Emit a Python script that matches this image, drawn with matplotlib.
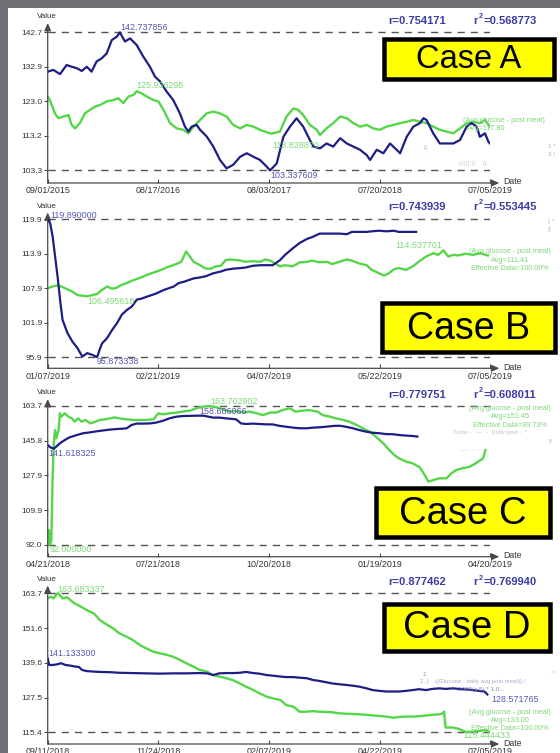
import matplotlib
matplotlib.use('Agg')
import matplotlib.pyplot as plt
import numpy as np
from matplotlib.patches import Rectangle

plt.rcParams['font.family'] = ['Liberation Sans', 'DejaVu Sans']

W, H = 560, 753

# ---------------- Case A ----------------
a_dates = ['09/01/2015', '08/17/2016', '08/03/2017', '07/20/2018', '07/05/2019']
a_span = 1403
a_blue_day = [0,18,39,60,76,92,108,124,139,155,171,187,203,219,229,245,261,282,303,324,340,356,377,398,419,435,446,456,472,483,504,525,546,567,588,610,631,652,673,694,705,726,747,768,789,810,831,842,863,884,905,927,948,969,990,1011,1022,1043,1064,1085,1106,1117,1138,1159,1180,1191,1201,1222,1243,1264,1286,1307,1328,1344,1360,1370,1386,1397,1402]
a_blue_val = [131.5,132.0,130.8,133.4,132.9,132.5,131.7,132.9,131.5,134.4,135.3,136.7,140.5,141.5,142.7,140.1,141.0,139.1,135.8,132.9,130.1,128.7,125.8,123.4,119.6,115.8,114.4,115.8,116.3,114.9,113.0,110.1,106.3,103.9,104.9,107.2,108.2,107.2,106.3,104.4,103.3,105.3,112.9,115.8,118.2,115.8,112.0,110.1,109.6,111.0,110.1,112.5,111.0,110.1,109.2,107.7,106.3,109.2,108.2,111.0,109.2,108.2,112.9,115.8,116.8,118.2,117.7,113.9,111.0,111.0,111.0,112.0,115.8,116.8,115.8,112.9,113.9,111.5,111.0]
a_green_day = [0,7,23,34,50,66,76,87,102,118,134,150,166,187,208,224,240,256,272,282,298,314,335,351,367,388,409,430,446,462,483,504,525,546,567,588,610,631,652,673,694,710,736,757,779,794,810,831,853,863,884,905,927,948,969,990,1011,1032,1053,1074,1096,1117,1138,1159,1180,1201,1222,1243,1264,1286,1307,1328,1349,1370,1386,1402]
a_green_val = [124.4,123.4,119.6,118.2,118.7,119.1,116.3,115.3,116.8,119.6,120.6,121.5,122.0,123.0,123.4,123.9,122.5,124.4,124.9,125.9,125.3,124.4,123.4,123.0,120.6,116.8,115.3,114.9,113.9,115.8,117.7,119.6,120.1,119.6,118.7,116.3,115.3,116.3,115.8,114.9,114.2,113.8,114.4,118.7,121.0,120.6,119.1,116.3,114.9,113.4,115.3,116.8,118.7,118.2,116.8,115.8,116.3,115.3,114.9,115.8,116.3,116.8,117.2,117.7,117.2,116.8,115.8,114.9,114.4,113.9,115.3,116.8,117.2,116.8,117.7,115.8]
a_max, a_min = 142.737856, 103.337609
a_r, a_r2 = 'r=0.754171', '=0.568773'
a_avg = 'Avg=117.80'

# ---------------- Case B ----------------
b_dates = ['01/07/2019', '02/21/2019', '04/07/2019', '05/22/2019', '07/05/2019']
b_span = 179
b_blue_day = [0,1,2,3,4,5,6,8,10,12,14,16,18,20,21,22,24,26,28,30,32,34,36,38,40,42,44,47,49,51,53,55,57,59,62,64,67,70,72,75,78,80,83,86,88,91,94,96,99,102,105,107,110,113,115,118,121,123,126,129,131,134,137,140,142,145,148,149]
b_blue_val = [119.89,119.2,116.9,113.4,109.9,105.9,102.4,100.1,98.6,97.5,96.0,96.6,96.3,95.9,97.2,98.3,99.2,100.6,101.8,103.3,104.1,104.7,105.9,106.1,106.4,106.7,107.0,107.6,107.9,108.2,108.8,109.0,109.3,109.6,109.8,110.0,110.5,110.8,111.1,111.3,111.4,111.5,111.8,111.9,111.9,111.9,112.8,113.7,114.8,115.8,116.5,116.8,117.4,117.4,117.4,117.4,117.3,117.7,117.7,117.7,117.8,117.9,117.8,117.9,117.7,117.7,117.7,117.7]
b_green_day = [0,2,4,6,8,10,12,14,16,18,20,22,24,26,28,30,32,34,36,38,40,42,44,46,48,50,52,54,56,57,59,62,64,66,68,70,72,74,76,78,80,83,86,88,90,92,94,96,99,102,105,107,110,113,115,118,121,123,126,129,131,134,136,138,140,142,145,148,150,153,156,158,160,162,164,166,169,172,175,177,178]
b_green_val = [107.9,108.2,108.4,108.1,107.7,107.3,106.7,106.6,106.5,106.7,106.9,107.6,108.2,107.8,108.0,108.5,108.8,109.2,109.5,109.8,110.2,110.5,110.8,111.1,111.5,111.8,112.1,112.5,114.3,113.7,112.5,111.8,111.3,111.3,111.7,111.8,112.8,112.9,112.8,112.7,112.5,112.6,112.5,112.9,112.7,112.2,111.7,111.9,111.7,112.4,112.5,112.7,112.4,112.5,112.1,112.5,112.9,112.7,112.2,111.9,111.1,110.5,110.1,110.5,111.2,111.4,111.1,111.8,112.5,113.4,114.0,113.7,114.5,113.4,113.7,113.6,113.9,113.7,114.0,113.7,113.6]
b_max, b_min = 119.890000, 95.873338
b_r, b_r2 = 'r=0.743939', '=0.553445'
b_avg, b_eff = 'Avg=111.41', 'Effective Data=100.00%'

# ---------------- Case C ----------------
c_dates = ['04/21/2018', '07/21/2018', '10/20/2018', '01/19/2019', '04/20/2019']
c_span = 364
c_blue_day = [0,2,5,7,10,14,18,24,29,35,40,46,51,57,62,65,69,73,79,84,89,95,100,106,111,117,122,128,132,136,141,147,152,155,159,163,169,174,180,185,191,196,202,207,213,218,224,229,235,240,245,251,256,262,267,273,278,284,289,295,300,304]
c_blue_val = [143.5,142.4,141.6,142.7,144.4,146.1,147.5,148.7,149.6,150.1,150.6,151.1,151.5,151.8,152.0,152.2,153.9,154.6,154.6,154.7,155.1,156.1,157.3,158.2,158.5,158.6,158.7,158.7,158.2,157.7,157.7,157.3,157.0,156.8,154.7,154.4,154.6,154.4,154.2,154.2,153.4,153.0,152.5,152.2,152.2,152.5,152.7,153.0,153.4,153.5,153.0,152.2,151.3,150.4,149.9,149.6,149.2,149.1,148.7,148.4,148.2,147.9]
c_green_day = [0,1,2,3,4,5,6,7,9,10,11,14,17,20,22,25,28,31,35,39,43,47,51,55,59,65,70,76,81,87,91,95,100,106,111,117,122,128,133,139,144,150,155,161,166,172,177,183,188,193,199,204,210,215,222,226,232,237,243,248,254,259,265,270,276,281,285,289,295,300,306,310,313,317,322,328,332,336,341,347,352,358,360]
c_green_val = [92.0,99.6,92.0,94.4,125.4,144.4,151.3,147.0,151.3,159.9,158.2,159.9,158.2,157.3,155.6,157.3,155.6,156.5,154.7,155.6,156.5,156.8,157.3,157.8,157.3,156.8,156.5,156.5,156.5,156.8,159.9,159.4,159.9,160.3,160.8,161.3,162.5,163.4,163.7,163.0,162.0,160.8,161.1,160.3,160.8,159.9,159.0,160.3,160.3,161.6,162.5,160.8,161.3,161.6,160.8,159.0,158.2,157.3,156.5,155.6,153.9,152.2,150.4,147.8,144.4,140.9,138.4,136.6,134.9,134.1,132.0,128.0,124.6,125.4,126.3,126.3,128.9,130.6,131.5,132.3,134.1,136.6,140.9]
c_max, c_min = 163.702902, 92.000000
c_r, c_r2 = 'r=0.779751', '=0.608011'
c_avg, c_eff = 'Avg=151.45', 'Effective Data=99.73%'

# ---------------- Case D ----------------
d_dates = ['09/11/2018', '11/24/2018', '02/07/2019', '04/22/2019', '07/05/2019']
d_span = 297
d_blue_day = [0,1,3,6,9,12,15,18,21,23,26,31,35,42,48,57,66,75,84,93,102,107,111,115,120,124,129,133,138,142,147,151,156,160,165,169,174,178,182,187,191,196,200,205,209,214,218,223,227,232,236,240,245,249,254,258,263,267,272,276,281,285,290,293,295]
d_blue_val = [141.1,138.8,138.8,139.0,139.4,138.8,138.6,138.3,138.1,137.1,136.7,136.5,136.4,136.3,136.1,136.0,135.9,135.8,135.9,135.9,136.0,135.9,135.3,135.9,136.0,136.0,136.1,136.4,136.0,135.8,135.3,135.1,134.8,134.6,134.6,134.4,134.2,133.6,133.3,132.8,132.4,132.1,131.9,131.6,131.3,130.7,130.1,129.8,129.6,129.6,129.6,129.8,130.1,130.4,130.1,130.5,130.7,130.5,130.7,130.5,130.3,130.1,129.8,129.6,128.6]
d_green_day = [0,2,4,6,7,8,10,13,15,18,22,26,31,35,40,44,48,53,57,62,66,71,75,80,84,89,93,98,102,107,111,115,120,124,129,133,138,142,147,151,156,160,165,169,174,178,182,187,191,196,200,205,209,214,218,223,227,232,236,240,245,249,254,258,263,265,266,267,272,276,281,285,290,294,296]
d_green_val = [161.9,162.5,161.9,163.4,163.68,163.1,161.9,162.3,161.4,160.2,159.1,157.9,156.7,154.4,152.7,151.5,149.8,148.6,147.5,145.7,144.6,143.4,142.9,142.3,141.7,140.5,139.4,138.2,137.1,136.5,135.3,134.8,134.2,133.6,132.4,131.3,130.1,129.0,127.8,127.2,126.7,124.9,124.3,122.6,122.6,122.8,122.6,122.5,122.4,122.0,121.9,121.8,121.7,121.5,121.3,121.1,120.9,120.5,120.8,120.9,120.9,121.0,121.3,121.5,121.7,122.0,122.6,117.1,117.1,116.6,115.5,115.7,115.9,116.3,115.7]
d_max, d_min = 163.683337, 115.444433
d_r, d_r2 = 'r=0.877462', '=0.769940'
d_avg, d_eff = 'Avg=133.00', 'Effective Data=100.00%'

BLUE = '#1d1d86'
GREEN = '#55d64a'
BLUE_T = '#5656b4'
GREEN_T = '#7ed877'
AXC = '#4a4a4a'
GRAY_BG = '#6e7076'

fig = plt.figure(figsize=(W / 100, H / 100), dpi=100)
fig.patch.set_facecolor(GRAY_BG)
fig.patches.append(Rectangle((8 / W, 0), 1 - 8 / W, 1 - 8 / H, transform=fig.transFigure,
                             facecolor='white', edgecolor='none', zorder=-10))


def fx(x):
    return x / W


def fy(y):
    return 1 - y / H


def ptext(x, y, s, **kw):
    fig.text(fx(x), fy(y), s, **kw)


X0, X1 = 47.7, 490.3


def panel(dates, span, bday, bval, gday, gval, vmax, vmin, axis_y, top_y, ymax_y, ymin_y):
    ax = fig.add_axes([fx(X0), fy(axis_y), (X1 - X0) / W, (axis_y - top_y) / H])
    upp = (vmax - vmin) / (ymin_y - ymax_y)
    ax.set_ylim(vmin - (axis_y - ymin_y) * upp, vmax + (ymax_y - top_y) * upp)
    ax.set_xlim(0, span)
    ax.patch.set_alpha(0)
    for s in ax.spines.values():
        s.set_visible(False)
    dash = (0, (5.2, 4.3))
    ax.plot([0, span], [vmax, vmax], color='#555555', lw=1.0, ls=dash, zorder=1)
    ax.plot([0, span], [vmin, vmin], color='#555555', lw=1.0, ls=dash, zorder=1)
    ax.plot(gday, gval, color=GREEN, lw=1.7, zorder=3, solid_joinstyle='round')
    ax.plot(bday, bval, color=BLUE, lw=1.6, zorder=4, solid_joinstyle='round')
    ap = dict(arrowstyle='-|>,head_length=0.45,head_width=0.2', color=AXC, lw=0.9,
              shrinkA=0, shrinkB=0)
    ax.annotate('', xy=(0, 1), xytext=(0, 0), xycoords='axes fraction', arrowprops=ap)
    ax.annotate('', xy=(1 + 9 / (X1 - X0), 0), xytext=(0, 0), xycoords='axes fraction',
                arrowprops=ap)
    yt = np.linspace(vmin, vmax, 5)
    ax.set_yticks(yt)
    ax.set_yticklabels([f'{v:.1f}' for v in yt])
    ax.set_xticks(np.linspace(0, span, 5))
    ax.set_xticklabels(dates)
    ax.tick_params(axis='y', direction='out', length=3, width=0.8, color=AXC,
                   labelsize=6, pad=1, labelcolor='#333333')
    ax.tick_params(axis='x', direction='in', length=3, width=0.8, color=AXC,
                   labelsize=6.4, pad=2.5, labelcolor='#333333')
    ptext(47, top_y - 6, 'Value', ha='center', va='center', fontsize=5.8, color='#333333')
    ptext(503, axis_y - 1, 'Date', ha='left', va='center', fontsize=6.3, color='#333333')
    return ax


def rtexts(y, r, r2):
    ptext(388, y, r, ha='left', va='center', fontsize=8, fontweight='bold', color='#3b3ba6')
    ptext(473, y, 'r', ha='left', va='center', fontsize=8, fontweight='bold', color='#3b3ba6')
    ptext(478.5, y - 4, '2', ha='left', va='center', fontsize=5.2, fontweight='bold', color='#3b3ba6')
    ptext(483, y, r2, ha='left', va='center', fontsize=8, fontweight='bold', color='#3b3ba6')


def casebox(x0, y0, x1, y1, label, size):
    lw_px = 4.5
    r = Rectangle((fx(x0 + lw_px / 2), fy(y1 - lw_px / 2)), (x1 - x0 - lw_px) / W,
                  (y1 - y0 - lw_px) / H, transform=fig.transFigure, facecolor='#ffff00',
                  edgecolor='black', linewidth=lw_px * 0.72, zorder=5)
    fig.patches.append(r)
    ptext((x0 + x1) / 2, (y0 + y1) / 2 + 1, label, ha='center', va='center',
          fontsize=size, color='black', zorder=6)


def legend(x, y0, lines, color=GREEN_T, size=5.2):
    for i, s in enumerate(lines):
        ptext(x, y0 + i * 8, s, ha='center', va='center', fontsize=size, color=color)


# ---- Panel A ----
panel(a_dates, a_span, a_blue_day, a_blue_val, a_green_day, a_green_val,
      a_max, a_min, 183, 23, 32.3, 170.3)
ptext(120, 27, f'{a_max:.6f}', ha='left', va='center', fontsize=6.4, color=BLUE_T)
ptext(136, 86, '125.936298', ha='left', va='center', fontsize=6.4, color=GREEN_T)
ptext(272, 145, '113.828870', ha='left', va='center', fontsize=6.4, color=GREEN_T)
ptext(270, 175, f'{a_min:.6f}', ha='left', va='center', fontsize=6.4, color=BLUE_T)
rtexts(21, a_r, a_r2)
ptext(463, 121, '(Avg glucose - post meal)', ha='left', va='center', fontsize=5.2, color=GREEN_T)
ptext(467, 128, a_avg, ha='left', va='center', fontsize=5.2, color=GREEN_T)
ptext(422, 147, '1(', ha='left', va='center', fontsize=4.5, color='#b8b8cc')
ptext(422, 155, ':', ha='left', va='center', fontsize=4.5, color='#b8b8cc')
ptext(459, 163, '((((( ((    ((...', ha='left', va='center', fontsize=4.5, color='#c4c4d4')
ptext(548, 146, '1 *', ha='left', va='center', fontsize=4.5, color='#b0b0b8')
ptext(548, 155, '3 /', ha='left', va='center', fontsize=4.5, color='#b0b0b8')
casebox(382, 37, 556, 81, 'Case A', 23.5)

# ---- Panel B ----
panel(b_dates, b_span, b_blue_day, b_blue_val, b_green_day, b_green_val,
      b_max, b_min, 368.3, 212.5, 219.3, 357.3)
ptext(50, 215, f'{b_max:.6f}', ha='left', va='center', fontsize=6.4, color=BLUE_T)
ptext(87, 301, '106.495618', ha='left', va='center', fontsize=6.4, color=GREEN_T)
ptext(97, 362, f'{b_min:.6f}', ha='left', va='center', fontsize=6.4, color=BLUE_T)
ptext(395, 246, '114.537701', ha='left', va='center', fontsize=6.4, color=GREEN_T)
rtexts(207, b_r, b_r2)
legend(510, 252, ['(Avg glucose - post meal)', b_avg, b_eff])
ptext(548, 222, '} *', ha='left', va='center', fontsize=4.5, color='#b0b0b8')
ptext(548, 230, '}/', ha='left', va='center', fontsize=4.5, color='#b0b0b8')
casebox(380, 301, 557, 354, 'Case B', 27)

# ---- Panel C ----
panel(c_dates, c_span, c_blue_day, c_blue_val, c_green_day, c_green_val,
      c_max, c_min, 556.7, 399, 406, 544.7)
ptext(210, 402, f'{c_max:.6f}', ha='left', va='center', fontsize=6.4, color=GREEN_T)
ptext(199, 412, '158.686066', ha='left', va='center', fontsize=6.4, color=BLUE_T)
ptext(48, 453, '141.618325', ha='left', va='center', fontsize=6.4, color=BLUE_T)
ptext(50, 549, f'{c_min:.6f}', ha='left', va='center', fontsize=6.4, color=GREEN_T)
rtexts(395, c_r, c_r2)
legend(510, 409, ['(Avg glucose - post meal)', c_avg, c_eff])
ptext(453, 432, 'Trobo -  ----  -  Dolly post -  *', ha='left', va='center', fontsize=4.3, color='#c0c0c8')
ptext(549, 441, '}/', ha='left', va='center', fontsize=4.5, color='#b0b0b8')
ptext(460, 451, '----  -- ---- ', ha='left', va='center', fontsize=4.3, color='#c8c8d0')
casebox(374, 486, 552, 539, 'Case C', 27.5)

# ---- Panel D ----
panel(d_dates, d_span, d_blue_day, d_blue_val, d_green_day, d_green_val,
      d_max, d_min, 744, 585.5, 593.3, 732.3)
ptext(57, 589, f'{d_max:.6f}', ha='left', va='center', fontsize=6.4, color=GREEN_T)
ptext(48, 654, '141.133300', ha='left', va='center', fontsize=6.4, color=BLUE_T)
ptext(491, 699, '128.571765', ha='left', va='center', fontsize=6.4, color=BLUE_T)
ptext(463, 736, f'{d_min:.6f}', ha='left', va='center', fontsize=6.4, color=GREEN_T)
rtexts(582, d_r, d_r2)
legend(510, 712, ['(Avg glucose - post meal)', d_avg, d_eff])
ptext(422, 674, '1', ha='left', va='center', fontsize=4.5, color='#9a9ac0')
ptext(420, 682, '2..)    ((Glucose - daily avg post meal)) /', ha='left', va='center', fontsize=4.3, color='#a8a8cc')
ptext(458, 690, '1000(x 5) * 1.0...', ha='left', va='center', fontsize=4.5, color='#8080c0')
ptext(549, 673, ', *', ha='left', va='center', fontsize=4.5, color='#b0b0b8')
casebox(382, 602, 552, 653, 'Case D', 27.5)

fig.savefig('out.png', dpi=100, facecolor=fig.get_facecolor())
